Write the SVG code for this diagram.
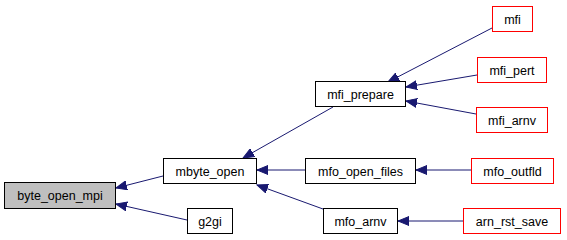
<svg xmlns="http://www.w3.org/2000/svg" width="567" height="240" viewBox="0 0 567 240">
  <style>
    .node rect { stroke-width: 1; }
    .root rect { fill: #bfbfbf; stroke: #000000; }
    .plain rect { fill: #ffffff; stroke: #000000; }
    .leaf rect { fill: #ffffff; stroke: #ff0000; }
    .node text { font-family: "Liberation Sans", Arial, sans-serif; font-size: 12.5px; fill: #000000; text-anchor: middle; }
    .edges line { stroke: #191970; stroke-width: 1; marker-end: url(#arrow); }
  </style>
  <defs>
    <marker id="arrow" markerUnits="userSpaceOnUse" markerWidth="12" markerHeight="10" refX="11" refY="5" orient="auto">
      <path d="M0,0.5 L11,5 L0,9.5 Z" fill="#191970" stroke="#191970" stroke-width="1"/>
    </marker>
  </defs>
  <rect width="567" height="240" fill="#ffffff"/>

  <g class="edges">
    <line x1="163" y1="176" x2="116" y2="188"/>
    <line x1="187" y1="220" x2="116" y2="204"/>
    <line x1="333" y1="107" x2="243" y2="158"/>
    <line x1="305" y1="170" x2="257" y2="170"/>
    <line x1="323" y1="209" x2="257" y2="185"/>
    <line x1="492" y1="28" x2="388" y2="82"/>
    <line x1="477" y1="75" x2="406" y2="87"/>
    <line x1="476" y1="114" x2="406" y2="101"/>
    <line x1="471" y1="170" x2="416" y2="170"/>
    <line x1="463" y1="221" x2="398" y2="221"/>
  </g>

  <g id="byte_open_mpi" class="node root">
    <rect x="4.5" y="182.5" width="111" height="26"/>
    <text x="60" y="200">byte_open_mpi</text>
  </g>
  <g id="mbyte_open" class="node plain">
    <rect x="163.5" y="158.5" width="93" height="25"/>
    <text x="210" y="175.5">mbyte_open</text>
  </g>
  <g id="g2gi" class="node plain">
    <rect x="187.5" y="208.5" width="45" height="25"/>
    <text x="210" y="225.5">g2gi</text>
  </g>
  <g id="mfi_prepare" class="node plain">
    <rect x="315.5" y="81.5" width="90" height="25"/>
    <text x="360.5" y="98.5">mfi_prepare</text>
  </g>
  <g id="mfo_open_files" class="node plain">
    <rect x="305.5" y="158.5" width="110" height="25"/>
    <text x="360.5" y="175.5">mfo_open_files</text>
  </g>
  <g id="mfo_arnv" class="node plain">
    <rect x="323.5" y="208.5" width="74" height="25"/>
    <text x="360.5" y="225.5">mfo_arnv</text>
  </g>
  <g id="mfi" class="node leaf">
    <rect x="492.5" y="6.5" width="40" height="25"/>
    <text x="512.5" y="23.5">mfi</text>
  </g>
  <g id="mfi_pert" class="node leaf">
    <rect x="477.5" y="57.5" width="69" height="25"/>
    <text x="512" y="74.5">mfi_pert</text>
  </g>
  <g id="mfi_arnv" class="node leaf">
    <rect x="476.5" y="107.5" width="71" height="25"/>
    <text x="512" y="124.5">mfi_arnv</text>
  </g>
  <g id="mfo_outfld" class="node leaf">
    <rect x="471.5" y="158.5" width="82" height="25"/>
    <text x="512.5" y="175.5">mfo_outfld</text>
  </g>
  <g id="arn_rst_save" class="node leaf">
    <rect x="463.5" y="208.5" width="97" height="25"/>
    <text x="512" y="225.5">arn_rst_save</text>
  </g>
</svg>
